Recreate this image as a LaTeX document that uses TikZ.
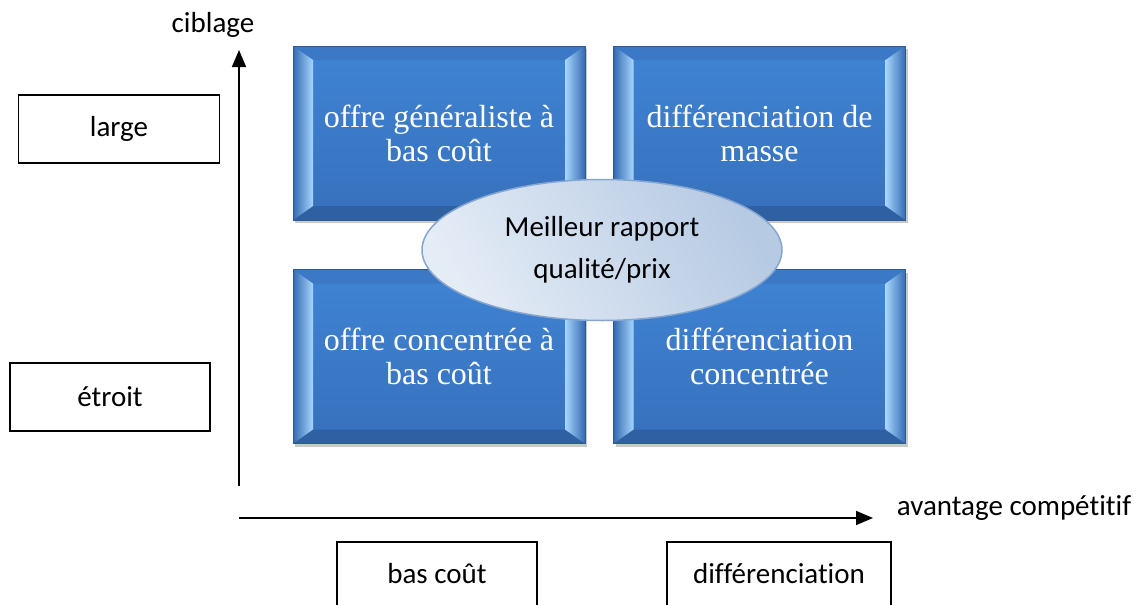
\documentclass[tikz,border=0pt]{standalone}
\usepackage{fontspec}
\setmainfont{Carlito}[Ligatures=NoCommon]
\newfontfamily\tnr{Liberation Serif}[Ligatures=NoCommon]
\usetikzlibrary{shapes.geometric,arrows.meta,shadows}
\definecolor{faceTop}{HTML}{3F84D4}
\definecolor{faceBot}{HTML}{3770BC}
\definecolor{bevTop}{HTML}{3B78C6}
\definecolor{bevBot}{HTML}{2F60A2}
\definecolor{bevDark}{HTML}{3569B0}
\definecolor{bevLight}{HTML}{A6D6FF}
\definecolor{boxEdge}{HTML}{2C5A96}
\definecolor{ellA}{HTML}{E4ECF6}
\definecolor{ellB}{HTML}{B6CAE3}
\definecolor{ellEdge}{HTML}{86A6CF}
\tikzset{
  bluebox/.style={minimum width=292pt, minimum height=174pt, inner sep=0pt,
    text=white, align=center, font=\tnr\fontsize{32}{34}\selectfont,
    top color=faceTop, bottom color=faceBot, draw=boxEdge, line width=0.6pt,
    drop shadow={shadow xshift=2pt, shadow yshift=-3pt, opacity=0.35, fill=black!60},
    path picture={
      \coordinate (nw) at (path picture bounding box.north west);
      \coordinate (ne) at (path picture bounding box.north east);
      \coordinate (sw) at (path picture bounding box.south west);
      \coordinate (se) at (path picture bounding box.south east);
      \fill[bevTop] (nw) -- (ne) -- ([shift={(-20pt,-14pt)}]ne) -- ([shift={(20pt,-14pt)}]nw) -- cycle;
      \fill[bevBot] (sw) -- (se) -- ([shift={(-20pt,14pt)}]se) -- ([shift={(20pt,14pt)}]sw) -- cycle;
      \shade[left color=bevDark, right color=bevLight] (nw) -- ([shift={(20pt,-14pt)}]nw) -- ([shift={(20pt,14pt)}]sw) -- (sw) -- cycle;
      \shade[left color=bevLight, right color=bevDark] (ne) -- ([shift={(-20pt,-14pt)}]ne) -- ([shift={(-20pt,14pt)}]se) -- (se) -- cycle;
    }},
  labelbox/.style={draw=black, line width=1.5pt, inner sep=0pt, font=\fontsize{29}{34}\selectfont},
  axislabel/.style={inner sep=0pt, font=\fontsize{29}{34}\selectfont},
  axis/.style={line width=1.6pt, -{Triangle[length=17pt,width=14pt]}},
  midell/.style={ellipse, minimum width=360pt, minimum height=141pt, inner sep=0pt,
    shading=axis, left color=ellA, right color=ellB, shading angle=120,
    draw=ellEdge, line width=1.5pt, align=center, font=\fontsize{29}{42}\selectfont}
}
\begin{document}
\begin{tikzpicture}[x=1pt,y=-1pt]
\useasboundingbox (0,0) rectangle (1146,605);
\fill[white] (0,0) rectangle (1146,605);
% axes
\coordinate (yb) at (239,486);
\coordinate (yt) at (239,50);
\coordinate (xl) at (239,518);
\coordinate (xr) at (873,518);
\draw[axis] (yb) -- (yt);
\draw[axis] (xl) -- (xr);
\node[axislabel] (cib) at (213,25) {ciblage};
\node[axislabel] (avc) at (1014,508) {avantage compétitif};
% row / column labels
\node[labelbox, minimum width=201pt, minimum height=68pt] (large) at (119,129) {large};
\node[labelbox, minimum width=200pt, minimum height=68pt] (etroit) at (110,397) {étroit};
\node[labelbox, minimum width=200pt, minimum height=64pt] (bascout) at (437,574) {bas coût};
\node[labelbox, minimum width=224pt, minimum height=64pt] (diff) at (779,574) {différenciation};
% quadrants
\node[bluebox] (tl) at (439,133) {offre généraliste à\\bas coût};
\node[bluebox] (tr) at (759.5,133) {différenciation de\\masse};
\node[bluebox] (bl) at (439,356.5) {offre concentrée à\\bas coût};
\node[bluebox] (br) at (759.5,356.5) {différenciation\\concentrée};
% centre ellipse
\node[midell] (best) at (602,250) {Meilleur rapport\\qualité/prix};
\end{tikzpicture}
\end{document}
